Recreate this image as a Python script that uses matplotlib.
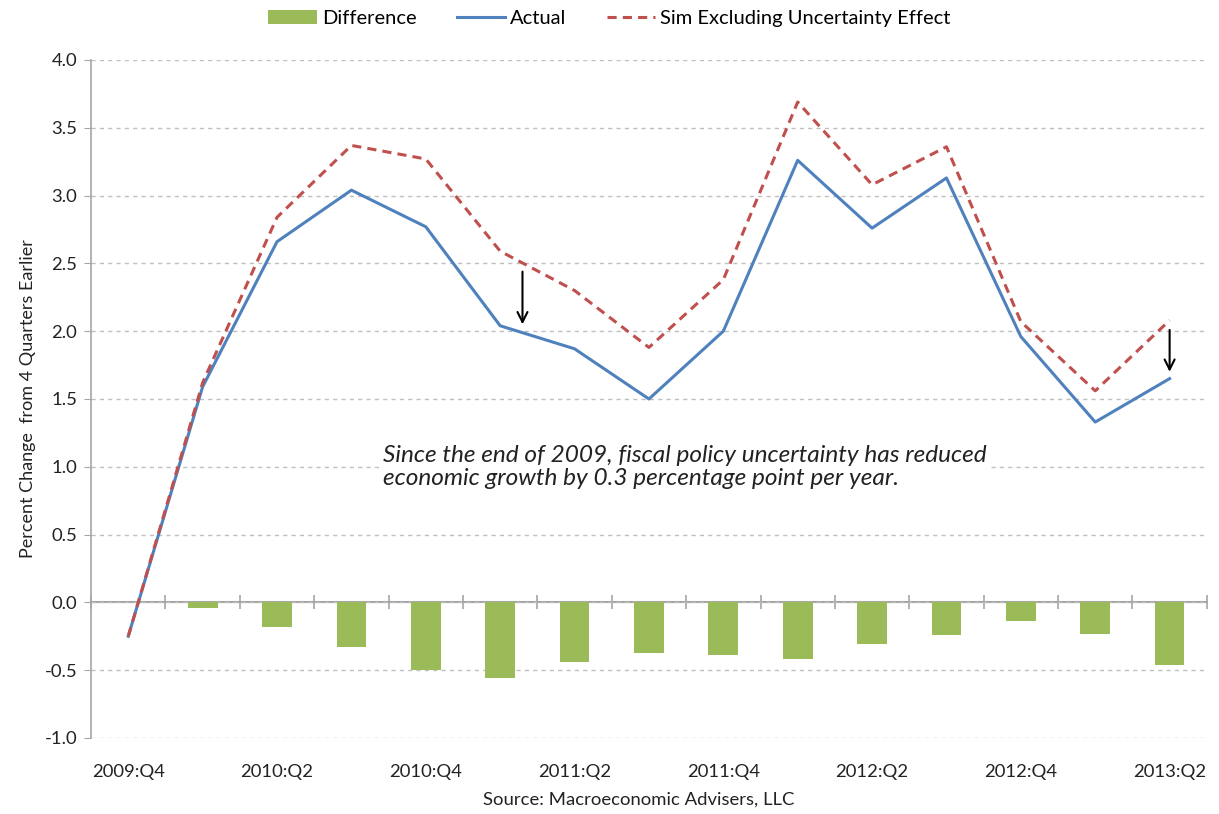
import matplotlib.pyplot as plt
from matplotlib.ticker import FormatStrFormatter, FixedLocator, NullFormatter

plt.rcParams['font.family'] = ['Lato', 'DejaVu Sans']

quarters = ["2009:Q4", "2010:Q1", "2010:Q2", "2010:Q3", "2010:Q4",
            "2011:Q1", "2011:Q2", "2011:Q3", "2011:Q4",
            "2012:Q1", "2012:Q2", "2012:Q3", "2012:Q4",
            "2013:Q1", "2013:Q2"]
actual = [-0.25, 1.59, 2.66, 3.04, 2.77, 2.04, 1.87, 1.50, 2.00,
          3.26, 2.76, 3.13, 1.96, 1.33, 1.65]
sim = [-0.25, 1.62, 2.84, 3.37, 3.27, 2.59, 2.30, 1.88, 2.38,
       3.69, 3.08, 3.36, 2.07, 1.56, 2.08]
difference = [0.0, -0.04, -0.18, -0.33, -0.50, -0.56, -0.44, -0.37, -0.39,
              -0.42, -0.31, -0.24, -0.14, -0.23, -0.46]

note = ("Since the end of 2009, fiscal policy uncertainty has reduced\n"
        "economic growth by 0.3 percentage point per year.")

green = "#9BBB59"
blue = "#4F81BD"
red = "#C0504D"
grey = "#A6A6A6"
txt = "#222222"

x = list(range(len(quarters)))

fig = plt.figure(figsize=(12.19, 8.14), dpi=100)
ax = fig.add_axes([0.0747, 0.0934, 0.9153, 0.8329])

bars = ax.bar(x, difference, width=0.4, color=green, label="Difference", zorder=2)
l1, = ax.plot(x, actual, color=blue, lw=2.2, label="Actual", zorder=3)
l2, = ax.plot(x, sim, color=red, lw=2.2, ls=(0, (3, 2)), label="Sim Excluding Uncertainty Effect", zorder=4)

ax.set_xlim(-0.5, len(quarters) - 0.5)
ax.set_ylim(-1.0, 4.0)
ax.set_yticks([i * 0.5 for i in range(-2, 9)])
ax.yaxis.set_major_formatter(FormatStrFormatter("%.1f"))
ax.yaxis.grid(True, ls=(0, (3, 3)), color="#BFBFBF", lw=1.0)
ax.set_axisbelow(True)

ax.set_xticks(x[::2])
ax.set_xticklabels(quarters[::2])
ax.tick_params(axis="x", length=0, pad=19, labelsize=13.3, colors=txt)
ax.tick_params(axis="y", length=5, color=grey, labelsize=13.3, colors=txt, pad=5)

for s in ["top", "right", "bottom"]:
    ax.spines[s].set_visible(False)
ax.spines["left"].set_color(grey)
ax.spines["left"].set_linewidth(1.2)

# category axis crossing at zero
zero_axis = ax.secondary_xaxis(0.2)
zero_axis.xaxis.set_major_locator(FixedLocator([i - 0.5 for i in range(len(quarters) + 1)]))
zero_axis.xaxis.set_major_formatter(NullFormatter())
zero_axis.tick_params(axis="x", direction="inout", length=10, color=grey, width=1.2)
zero_axis.spines["bottom"].set_color(grey)
zero_axis.spines["bottom"].set_linewidth(1.5)

ax.set_ylabel("Percent Change  from 4 Quarters Earlier", fontsize=13, color=txt, labelpad=6)

ax.text(3.42, 1.0, note, style="italic", fontsize=17.6, color=txt,
        va="center", ha="left", linespacing=1.12,
        bbox=dict(facecolor="white", edgecolor="none", pad=2), zorder=5)

arrow = dict(arrowstyle="->", color="black", lw=1.5, mutation_scale=18)
ax.annotate("", xy=(5.3, 2.03), xytext=(5.3, 2.46), arrowprops=arrow, zorder=6)
ax.annotate("", xy=(14.0, 1.68), xytext=(14.0, 2.03), arrowprops=arrow, zorder=6)

fig.text(0.524, 0.012, "Source: Macroeconomic Advisers, LLC", ha="center", fontsize=13.3, color=txt)

fig.legend([bars, l1, l2], ["Difference", "Actual", "Sim Excluding Uncertainty Effect"],
           loc="center", bbox_to_anchor=(0.5, 0.977), ncol=3, frameon=False,
           fontsize=14.5, handlelength=2.4, columnspacing=2.0, handletextpad=0.25)

fig.savefig("out.png", dpi=100)
